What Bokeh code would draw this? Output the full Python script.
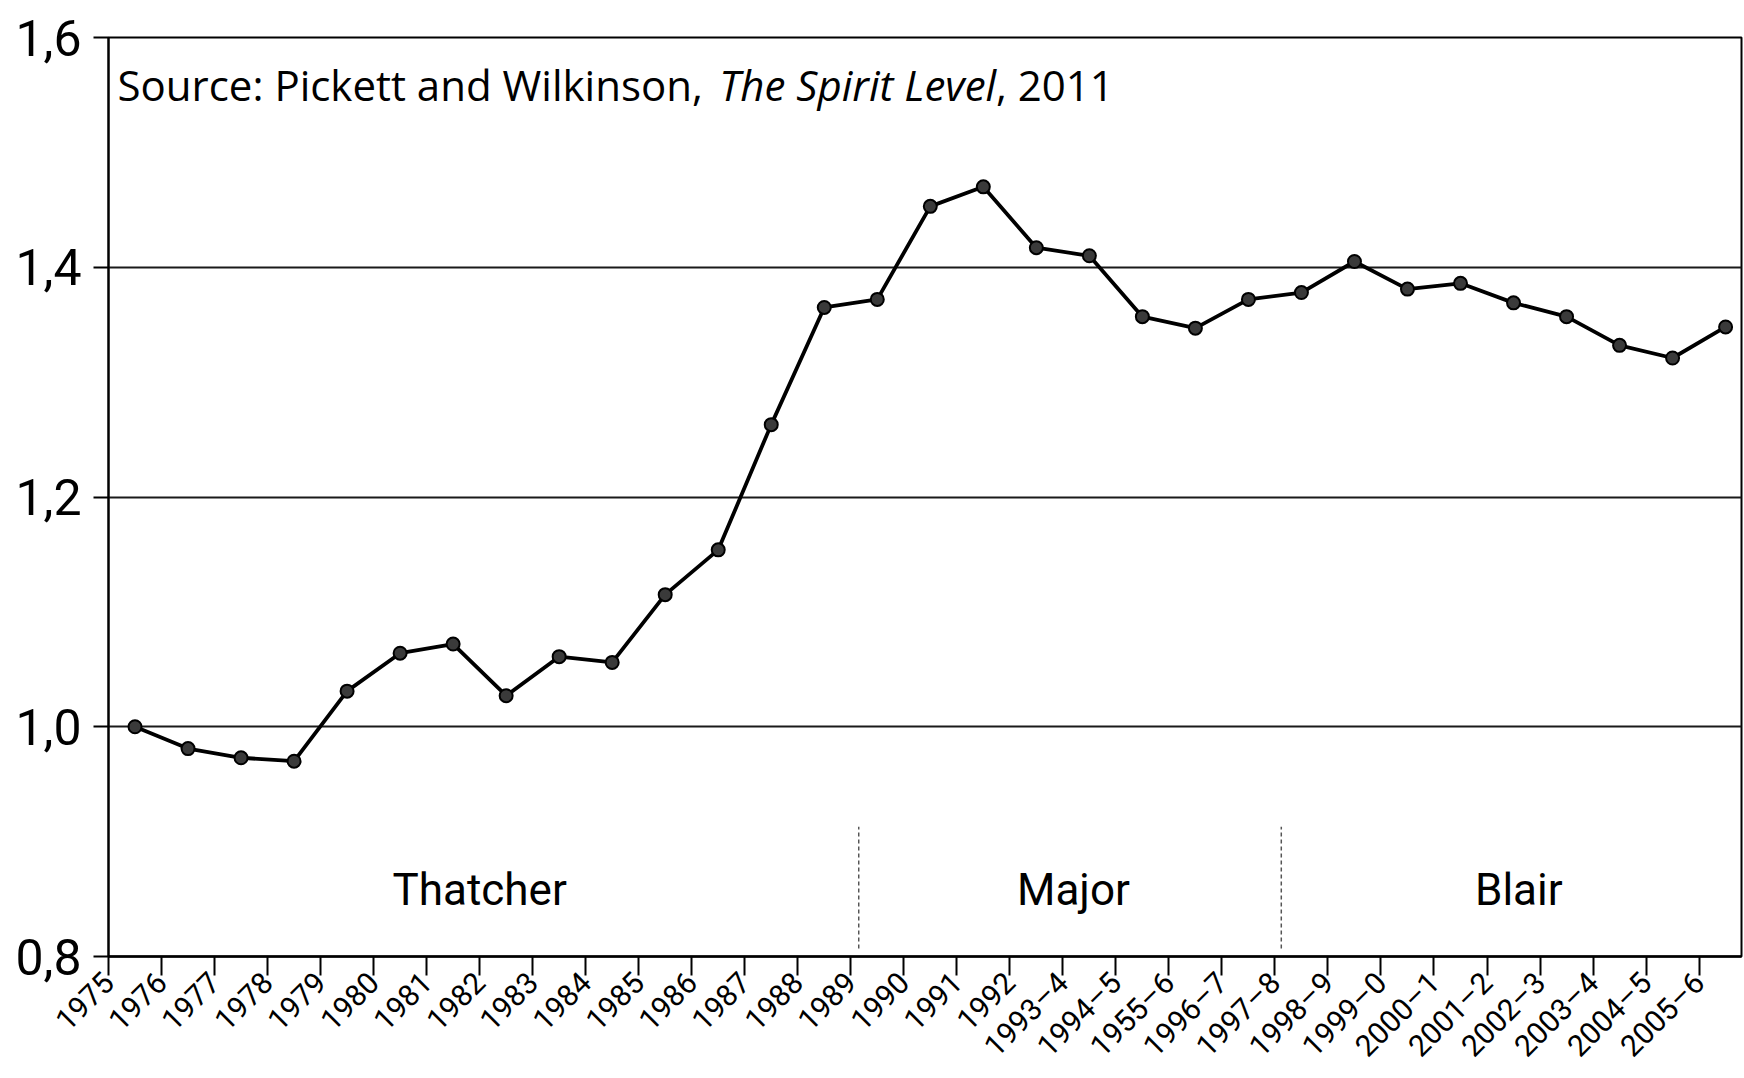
from bokeh.plotting import figure
from bokeh.models import FixedTicker, Label, Range1d
from bokeh.embed import file_html
from bokeh.resources import INLINE
import numpy as np

# ---- data ----
periods = ["1975", "1976", "1977", "1978", "1979", "1980", "1981", "1982", "1983",
           "1984", "1985", "1986", "1987", "1988", "1989", "1990", "1991", "1992",
           "1993–4", "1994–5", "1955–6", "1996–7", "1997–8", "1998–9", "1999–0",
           "2000–1", "2001–2", "2002–3", "2003–4", "2004–5", "2005–6"]
index_values = [1.000, 0.981, 0.973, 0.970, 1.031, 1.064, 1.072, 1.027, 1.061,
                1.056, 1.115, 1.154, 1.263, 1.365, 1.372, 1.453, 1.470, 1.417,
                1.410, 1.357, 1.347, 1.372, 1.378, 1.405, 1.381, 1.386, 1.369,
                1.357, 1.332, 1.321, 1.348]
y_ticks = [0.8, 1.0, 1.2, 1.4, 1.6]
y_tick_labels = ["0,8", "1,0", "1,2", "1,4", "1,6"]
eras = ["Thatcher", "Major", "Blair"]
era_label_pos = [7.0, 18.2, 26.6]
era_boundaries = [14.15, 22.12]

BOOK_FONT = "Roboto"

p = figure(width=1744, height=1078, output_backend="svg", toolbar_location=None,
           x_range=Range1d(0, 30.8), y_range=Range1d(0.8, 1.6),
           min_border_left=108, min_border_right=3, min_border_top=37,
           min_border_bottom=119)
p.background_fill_color = "white"
p.border_fill_color = "white"
p.outline_line_color = "black"
p.outline_line_width = 2

# x axis
p.xaxis.ticker = FixedTicker(ticks=list(range(len(periods))))
p.xaxis.major_label_overrides = {i: lab for i, lab in enumerate(periods)}
p.xaxis.major_label_orientation = np.pi / 4
p.xaxis.major_label_text_font = BOOK_FONT
p.xaxis.major_label_text_font_size = "30px"
p.xaxis.major_label_text_color = "black"
p.xaxis.major_label_standoff = 2
p.xaxis.major_tick_out = 19
p.xaxis.major_tick_in = 0
p.xaxis.major_tick_line_width = 2
p.xaxis.minor_tick_line_color = None
p.xaxis.axis_line_width = 2.5
p.xaxis.axis_line_color = "black"

# y axis
p.yaxis.ticker = FixedTicker(ticks=y_ticks)
p.yaxis.major_label_overrides = {t: l for t, l in zip(y_ticks, y_tick_labels)}
p.yaxis.major_label_text_font = BOOK_FONT
p.yaxis.major_label_text_font_size = "50px"
p.yaxis.major_label_text_color = "black"
p.yaxis.major_label_standoff = 12
p.yaxis.major_tick_out = 15
p.yaxis.major_tick_in = 0
p.yaxis.major_tick_line_width = 2
p.yaxis.minor_tick_line_color = None
p.yaxis.axis_line_width = 2
p.yaxis.axis_line_color = "black"

p.xgrid.grid_line_color = None
p.ygrid.grid_line_color = "#1a1a1a"
p.ygrid.grid_line_width = 1.8

# era boundaries (dashed)
for xb in era_boundaries:
    p.line([xb, xb], [0.807, 0.913], line_color="#555555", line_width=1.5,
           line_dash="4 3")

# era labels
for name, xe in zip(eras, era_label_pos):
    p.add_layout(Label(x=xe, y=0.858, text=name, text_align="center",
                       text_baseline="alphabetic", text_font=BOOK_FONT,
                       text_font_size="44px", text_color="black"))

# data line
xs = np.arange(len(index_values)) + 0.5
p.line(xs, index_values, line_color="black", line_width=3.8)
p.scatter(xs, index_values, size=13, fill_color="#3a3a3a", line_color="black",
          line_width=2)

# source note
src_y = 1.559
p.add_layout(Label(x=0.17, y=src_y, text="Source: Pickett and Wilkinson,",
                   text_font="Open Sans", text_font_size="42px",
                   text_baseline="alphabetic", text_color="black"))
p.add_layout(Label(x=11.52, y=src_y, text="The Spirit Level",
                   text_font="Open Sans", text_font_size="42px",
                   text_font_style="italic",
                   text_baseline="alphabetic", text_color="black"))
p.add_layout(Label(x=16.74, y=src_y, text=", 2011",
                   text_font="Open Sans", text_font_size="42px",
                   text_baseline="alphabetic", text_color="black"))

open("out.html", "w").write(file_html(p, INLINE))
